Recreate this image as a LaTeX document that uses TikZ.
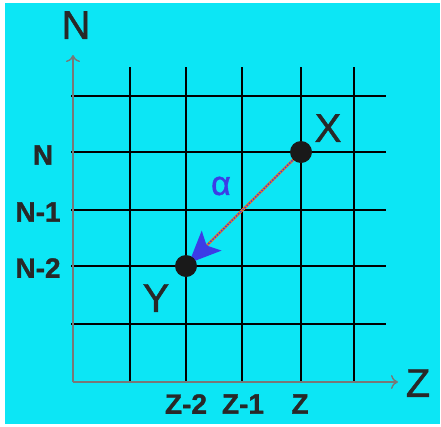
\documentclass[tikz,border=0pt]{standalone}
\usepackage{fontspec}
\setmainfont[FakeBold=1.2]{Liberation Sans}
\usetikzlibrary{arrows.meta}
\definecolor{bgcyan}{RGB}{12,230,245}
\definecolor{txt}{RGB}{40,40,40}
\definecolor{axgray}{RGB}{120,120,120}
\definecolor{arrblue}{RGB}{60,60,230}
\definecolor{arrorange}{RGB}{230,120,40}
\tikzset{
  gridline/.style={black, line width=1.6pt},
  axisline/.style={axgray, line width=1.8pt, -{To[length=7pt,width=14pt,line width=1.4pt]}},
  big/.style={txt, font=\fontsize{40}{40}\selectfont, inner sep=0pt},
  small/.style={txt, font=\fontsize{28}{28}\selectfont\bfseries, inner sep=0pt},
  dot/.style={circle, fill=black!90, minimum size=22pt, inner sep=0pt},
}
\begin{document}
\begin{tikzpicture}[x=1pt,y=-1pt]
\useasboundingbox (0,0) rectangle (441,426);
\fill[white] (0,0) rectangle (441,426);
\fill[bgcyan] (5,3) rectangle (440,424);
% grid
\foreach \x in {130,186,242,301,354} \draw[gridline] (\x,67) -- (\x,382);
\foreach \y in {96,152,210,266,324} \draw[gridline] (71,\y) -- (386,\y);
% axes
\coordinate (O) at (73,382);
\coordinate (Ntip) at (73,55);
\coordinate (Ztip) at (398,382);
\draw[axisline] (O) -- (Ntip);
\draw[axisline] (O) -- (Ztip);
% axis labels
\node[big] (NL) at (76,25) {N};
\node[big] (ZL) at (418,383) {Z};
\node[small] (n0) at (43,155) {N};
\node[small] (n1) at (38,212) {N-1};
\node[small] (n2) at (38,268) {N-2};
\node[small] (z2) at (186,404) {Z-2};
\node[small] (z1) at (243,404) {Z-1};
\node[small] (z0) at (300,404) {Z};
% arrow (drawn under the dots)
\coordinate (Xc) at (301,152);
\coordinate (Yc) at (186,266);
\draw[arrorange, line width=2.6pt, shorten >=20pt] (Xc) -- (Yc);
\draw[arrblue, line width=1.4pt, dash pattern=on 1.5pt off 1.5pt, shorten >=4pt,
  -{Stealth[length=32pt,width=28pt,inset=7pt,fill=arrblue]}] (Xc) -- (Yc);
% points
\node[dot] (X) at (Xc) {};
\node[dot] (Y) at (Yc) {};
\node[big] (XL) at (328,128) {X};
\node[big] (YL) at (156,298) {Y};
\node[arrblue, font=\fontsize{34}{34}\selectfont, inner sep=0pt] (al) at (221,186) {α};
\end{tikzpicture}
\end{document}
